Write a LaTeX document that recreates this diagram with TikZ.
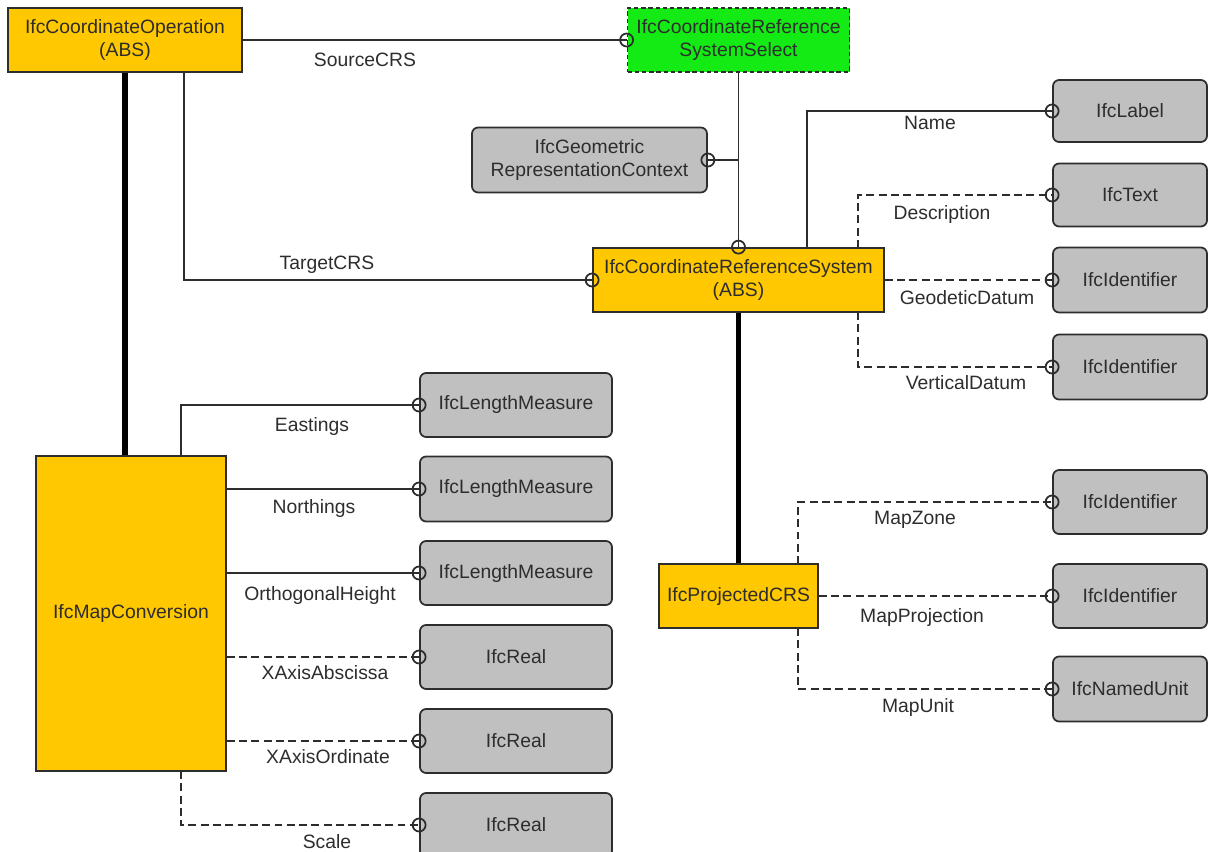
\documentclass[tikz,border=0pt]{standalone}
\usepackage{fontspec}
\setmainfont{Liberation Sans}
\definecolor{absfill}{RGB}{255,200,0}
\definecolor{selfill}{RGB}{20,235,20}
\definecolor{typfill}{RGB}{192,192,192}
\definecolor{ink}{RGB}{45,45,45}
\tikzset{
  px/.style 2 args={minimum width=#1*0.02cm, minimum height=#2*0.02cm},
  abs/.style={draw=ink, line width=1pt, fill=absfill, align=center, inner sep=0pt,
    font=\fontsize{11}{13}\selectfont, text=ink},
  sel/.style={abs, fill=selfill, dash pattern=on 2.5pt off 1.6pt},
  typ/.style={abs, fill=typfill, rounded corners=3.5pt},
  lbl/.style={inner sep=0pt, font=\fontsize{11}{13}\selectfont, text=ink},
  rel/.style={draw=ink, line width=1pt},
  opt/.style={rel, dash pattern=on 4.5pt off 2.5pt},
  sub/.style={draw=black, line width=3.4pt},
  ring/.style={draw=ink, line width=1pt}
}
\begin{document}
\begin{tikzpicture}[x=0.02cm, y=-0.02cm]
  \useasboundingbox (0,0) rectangle (1208,852);
  % entities
  \draw
    (125,40) node[abs, px={234}{64}] (coordop) {IfcCoordinateOperation\\(ABS)}
    (738.5,40) node[sel, px={222}{64}] (crsselect) {IfcCoordinateReference\\SystemSelect}
    (589.5,160) node[typ, px={235}{65}] (geomctx) {IfcGeometric\\RepresentationContext}
    (738.5,280) node[abs, px={291}{64}] (crs) {IfcCoordinateReferenceSystem\\(ABS)}
    (131,613.5) node[abs, px={190}{315}] (mapconv) {IfcMapConversion}
    (738.5,596) node[abs, px={159}{64}] (projcrs) {IfcProjectedCRS}
    (1130,111) node[typ, px={154}{62}] (name) {IfcLabel}
    (1130,195) node[typ, px={154}{63}] (descr) {IfcText}
    (1130,280) node[typ, px={154}{65}] (geodetic) {IfcIdentifier}
    (1130,367) node[typ, px={154}{65}] (vertical) {IfcIdentifier}
    (1130,502) node[typ, px={154}{64}] (mapzone) {IfcIdentifier}
    (1130,596) node[typ, px={154}{64}] (mapproj) {IfcIdentifier}
    (1130,689) node[typ, px={154}{65}] (mapunit) {IfcNamedUnit}
    (516,405) node[typ, px={192}{64}] (eastings) {IfcLengthMeasure}
    (516,489) node[typ, px={192}{65}] (northings) {IfcLengthMeasure}
    (516,573) node[typ, px={192}{64}] (height) {IfcLengthMeasure}
    (516,657) node[typ, px={192}{64}] (abscissa) {IfcReal}
    (516,741) node[typ, px={192}{64}] (ordinate) {IfcReal}
    (516,825) node[typ, px={192}{64}] (scale) {IfcReal};
  % branch points on the box borders
  \coordinate (tgtA) at (184,72);
  \coordinate (nameA) at (807,248);
  \coordinate (descA) at (858,248);
  \coordinate (vertA) at (858,312);
  \coordinate (eastA) at (181,456);
  \coordinate (scaleA) at (181,771);
  \coordinate (zoneA) at (798,564);
  \coordinate (unitA) at (798,628);
  % subtypes
  \draw[sub] (coordop.south) -- (coordop.south |- mapconv.north);
  \draw[sub] (crs.south) -- (projcrs.north);
  % attributes
  \begin{scope}[rel]
    \draw (coordop.east) -- (crsselect.west);
    \draw (tgtA) |- (crs.west);
    \draw (crsselect.south) -- (crs.north);
    \draw (geomctx.east) -- (geomctx.east -| crsselect.south);
    \draw (nameA) |- (name.west);
    \draw (eastA) |- (eastings.west);
    \draw (northings.west -| mapconv.east) -- (northings.west);
    \draw (height.west -| mapconv.east) -- (height.west);
  \end{scope}
  \begin{scope}[opt]
    \draw (descA) |- (descr.west);
    \draw (geodetic.west -| crs.east) -- (geodetic.west);
    \draw (vertA) |- (vertical.west);
    \draw (abscissa.west -| mapconv.east) -- (abscissa.west);
    \draw (ordinate.west -| mapconv.east) -- (ordinate.west);
    \draw (scaleA) |- (scale.west);
    \draw (zoneA) |- (mapzone.west);
    \draw (mapproj.west -| projcrs.east) -- (mapproj.west);
    \draw (unitA) |- (mapunit.west);
  \end{scope}
  \foreach \n in {crsselect.west, crs.west, crs.north, geomctx.east, name.west,
      descr.west, geodetic.west, vertical.west, eastings.west, northings.west,
      height.west, abscissa.west, ordinate.west, scale.west, mapzone.west,
      mapproj.west, mapunit.west}
    \draw[ring] (\n) circle[radius=0.13cm];
  % role names
  \node[lbl] (tSource) at (365,60) {SourceCRS};
  \node[lbl] (tTarget) at (327,265) {TargetCRS};
  \node[lbl] (tName) at (930,123) {Name};
  \node[lbl] (tDescr) at (942,215) {Description};
  \node[lbl] (tGeodetic) at (967,298) {GeodeticDatum};
  \node[lbl] (tVertical) at (966,383) {VerticalDatum};
  \node[lbl] (tEastings) at (312,427) {Eastings};
  \node[lbl] (tNorthings) at (314,508) {Northings};
  \node[lbl] (tHeight) at (320,595) {OrthogonalHeight};
  \node[lbl] (tAbscissa) at (325,673) {XAxisAbscissa};
  \node[lbl] (tOrdinate) at (328,757) {XAxisOrdinate};
  \node[lbl] (tScale) at (327,842) {Scale};
  \node[lbl] (tZone) at (915,520) {MapZone};
  \node[lbl] (tProj) at (922,617) {MapProjection};
  \node[lbl] (tUnit) at (918,707) {MapUnit};
\end{tikzpicture}
\end{document}
